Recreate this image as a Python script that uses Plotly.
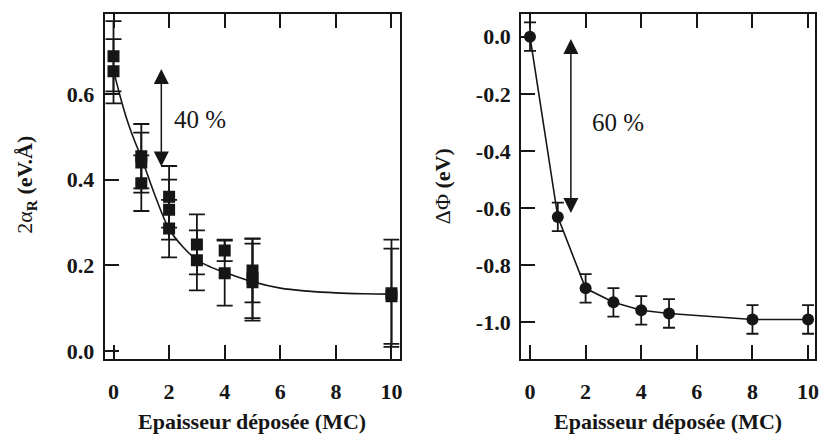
import plotly.graph_objects as go

# ---------------- data: left panel (2 alpha_R, eV.Å) ----------------
alpha_x = [0, 0, 1, 1, 1, 2, 2, 2, 3, 3, 4, 4, 5, 5, 5, 10, 10]
alpha_y = [0.688, 0.653, 0.455, 0.440, 0.392, 0.360, 0.330, 0.286,
           0.249, 0.212, 0.235, 0.182, 0.188, 0.170, 0.161, 0.135, 0.128]
alpha_err = [0.082, 0.075, 0.075, 0.070, 0.065, 0.072, 0.070, 0.067,
             0.070, 0.070, 0.025, 0.076, 0.074, 0.093, 0.090, 0.125, 0.111]

# fitted curve
fit_x = [0, 0.25, 0.5, 0.75, 1, 1.5, 2, 2.5, 3, 3.5, 4, 5, 6, 7, 8, 9, 10]
fit_y = [0.655, 0.592, 0.537, 0.492, 0.452, 0.362, 0.285, 0.243, 0.213,
         0.196, 0.184, 0.162, 0.147, 0.140, 0.136, 0.134, 0.133]

# ---------------- data: right panel (Delta Phi, eV) ----------------
phi_x = [0, 1, 2, 3, 4, 5, 8, 10]
phi_y = [0.0, -0.631, -0.881, -0.930, -0.958, -0.969, -0.990, -0.990]
phi_err = [0.05, 0.05, 0.05, 0.05, 0.05, 0.05, 0.05, 0.05]

# ticks
x_ticks = [0, 2, 4, 6, 8, 10]
x_ticktext = ["0", "2", "4", "6", "8", "10"]
alpha_ticks = [0.0, 0.2, 0.4, 0.6]
alpha_ticktext = ["0.0", "0.2", "0.4", "0.6"]
phi_ticks = [0.0, -0.2, -0.4, -0.6, -0.8, -1.0]
phi_ticktext = ["0.0", "-0.2", "-0.4", "-0.6", "-0.8", "-1.0"]

# arrows / labels
alpha_arrow = dict(x=1.72, y_top=0.662, y_bot=0.431, label="40 %", lx=2.11, ly=0.54)
phi_arrow = dict(x=1.47, y_top=-0.003, y_bot=-0.617, label="60 %", lx=2.15, ly=-0.301)

xtitle = "Epaisseur déposée (MC)"
ytitle_left = "2α<sub><b>R</b></sub><b> (eV.Å)</b>"
ytitle_right = "ΔΦ <b>(eV)</b>"

INK = "#161616"
SERIF = "Liberation Serif"

fig = go.Figure()

# left panel
fig.add_trace(go.Scatter(
    x=fit_x, y=fit_y, mode="lines", line=dict(color=INK, width=1.6, shape="spline"),
    xaxis="x", yaxis="y", showlegend=False, hoverinfo="skip"))
fig.add_trace(go.Scatter(
    x=alpha_x, y=alpha_y, mode="markers",
    marker=dict(symbol="square", size=12, color=INK),
    error_y=dict(type="data", array=alpha_err, visible=True, color=INK, thickness=1.8, width=8),
    xaxis="x", yaxis="y", showlegend=False))

# right panel
fig.add_trace(go.Scatter(
    x=phi_x, y=phi_y, mode="lines+markers",
    line=dict(color=INK, width=1.6),
    marker=dict(symbol="circle", size=12, color=INK),
    error_y=dict(type="data", array=phi_err, visible=True, color=INK, thickness=1.8, width=6),
    xaxis="x2", yaxis="y2", showlegend=False))

ydom = [1 - 363 / 439, 1 - 14 / 439]

axis_common = dict(
    showgrid=False, zeroline=False, showline=True, linecolor=INK, linewidth=2,
    ticks="inside", ticklen=14, tickwidth=2, tickcolor=INK,
    tickfont=dict(family=SERIF, size=22, color=INK, weight="bold"),
)

fig.update_layout(
    width=822, height=439,
    margin=dict(l=0, r=0, t=0, b=0),
    paper_bgcolor="white", plot_bgcolor="white",
    font=dict(family=SERIF, color=INK),
    xaxis=dict(domain=[105 / 822, 401 / 822], range=[-0.32, 10.29], anchor="y",
               tickvals=x_ticks, ticktext=x_ticktext, mirror="ticks",
               ticklabelstandoff=12, **axis_common),
    yaxis=dict(domain=ydom, range=[-0.018, 0.787], anchor="x",
               tickvals=alpha_ticks, ticktext=alpha_ticktext, mirror=True,
               ticklabelstandoff=4, **axis_common),
    xaxis2=dict(domain=[523 / 822, 818 / 822], range=[-0.32, 10.25], anchor="y2",
                tickvals=x_ticks, ticktext=x_ticktext, mirror="ticks",
                ticklabelstandoff=12, **axis_common),
    yaxis2=dict(domain=ydom, range=[-1.128, 0.08], anchor="x2",
                tickvals=phi_ticks, ticktext=phi_ticktext, mirror=True,
                ticklabelstandoff=4, **axis_common),
)

annotations = []
for arr, xr, yr in [(alpha_arrow, "x", "y"), (phi_arrow, "x2", "y2")]:
    annotations.append(dict(
        x=arr["x"], y=arr["y_bot"], ax=arr["x"], ay=arr["y_top"],
        xref=xr, yref=yr, axref=xr, ayref=yr, text="",
        showarrow=True, arrowhead=2, arrowsize=2.0, arrowwidth=1.5,
        startarrowhead=2, startarrowsize=2.0,
        arrowside="end+start", arrowcolor=INK))
    annotations.append(dict(
        x=arr["lx"], y=arr["ly"], xref=xr, yref=yr, text=arr["label"],
        showarrow=False, xanchor="left", yanchor="middle",
        font=dict(family=SERIF, size=25, color=INK)))

# axis titles
for xc in [253 / 822, 670.5 / 822]:
    annotations.append(dict(
        x=xc, y=1 - 426 / 439, xref="paper", yref="paper", text=xtitle,
        showarrow=False, xanchor="center", yanchor="middle",
        font=dict(family=SERIF, size=22, color=INK, weight="bold")))
annotations.append(dict(
    x=26 / 822, y=1 - 187 / 439, xref="paper", yref="paper", text=ytitle_left,
    showarrow=False, xanchor="center", yanchor="middle", textangle=-90,
    font=dict(family=SERIF, size=22, color=INK)))
annotations.append(dict(
    x=444 / 822, y=1 - 188 / 439, xref="paper", yref="paper", text=ytitle_right,
    showarrow=False, xanchor="center", yanchor="middle", textangle=-90,
    font=dict(family=SERIF, size=22, color=INK)))

fig.update_layout(annotations=annotations)

fig.write_html("out.html", config={"displayModeBar": False},
               post_script="document.body.style.margin='0';")
